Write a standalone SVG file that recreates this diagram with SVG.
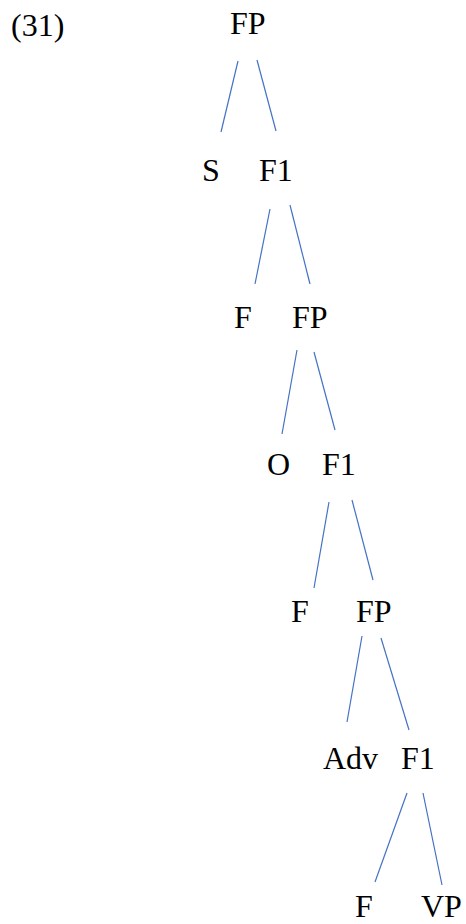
<svg xmlns="http://www.w3.org/2000/svg" width="466" height="924" viewBox="0 0 466 924">
<style>
.edge { stroke: #4472C4; stroke-width: 1.2; fill: none; }
text { font-family: "Liberation Serif", "Times New Roman", serif; font-size: 32px; fill: #000; }
</style>
<rect width="466" height="924" fill="#fff"/>
<text id="ex" x="11" y="36">(31)</text>
<g id="edges">
<line class="edge" x1="238" y1="61" x2="221" y2="132"/>
<line class="edge" x1="257" y1="60" x2="276" y2="131"/>
<line class="edge" x1="270" y1="209" x2="255" y2="284"/>
<line class="edge" x1="290" y1="205" x2="310" y2="284"/>
<line class="edge" x1="297" y1="350" x2="282" y2="434"/>
<line class="edge" x1="314" y1="352" x2="335" y2="430"/>
<line class="edge" x1="329" y1="502" x2="314" y2="588"/>
<line class="edge" x1="352" y1="500" x2="373" y2="580"/>
<line class="edge" x1="362" y1="636" x2="347" y2="722"/>
<line class="edge" x1="381" y1="638" x2="409" y2="730"/>
<line class="edge" x1="407" y1="793" x2="375" y2="882"/>
<line class="edge" x1="423" y1="793" x2="442" y2="885"/>
</g>
<g id="n-FP1"><text x="230" y="34">FP</text></g>
<g id="n-S"><text x="202" y="181">S</text></g>
<g id="n-F1a"><text x="259" y="181">F1</text></g>
<g id="n-F1"><text x="234" y="328">F</text></g>
<g id="n-FP2"><text x="292" y="328">FP</text></g>
<g id="n-O"><text x="267" y="475">O</text></g>
<g id="n-F1b"><text x="322" y="475">F1</text></g>
<g id="n-F2"><text x="291" y="622">F</text></g>
<g id="n-FP3"><text x="356" y="622">FP</text></g>
<g id="n-Adv"><text x="323" y="769">Adv</text></g>
<g id="n-F1c"><text x="401" y="769">F1</text></g>
<g id="n-F3"><text x="355" y="917">F</text></g>
<g id="n-VP"><text x="421" y="917">VP</text></g>
</svg>
